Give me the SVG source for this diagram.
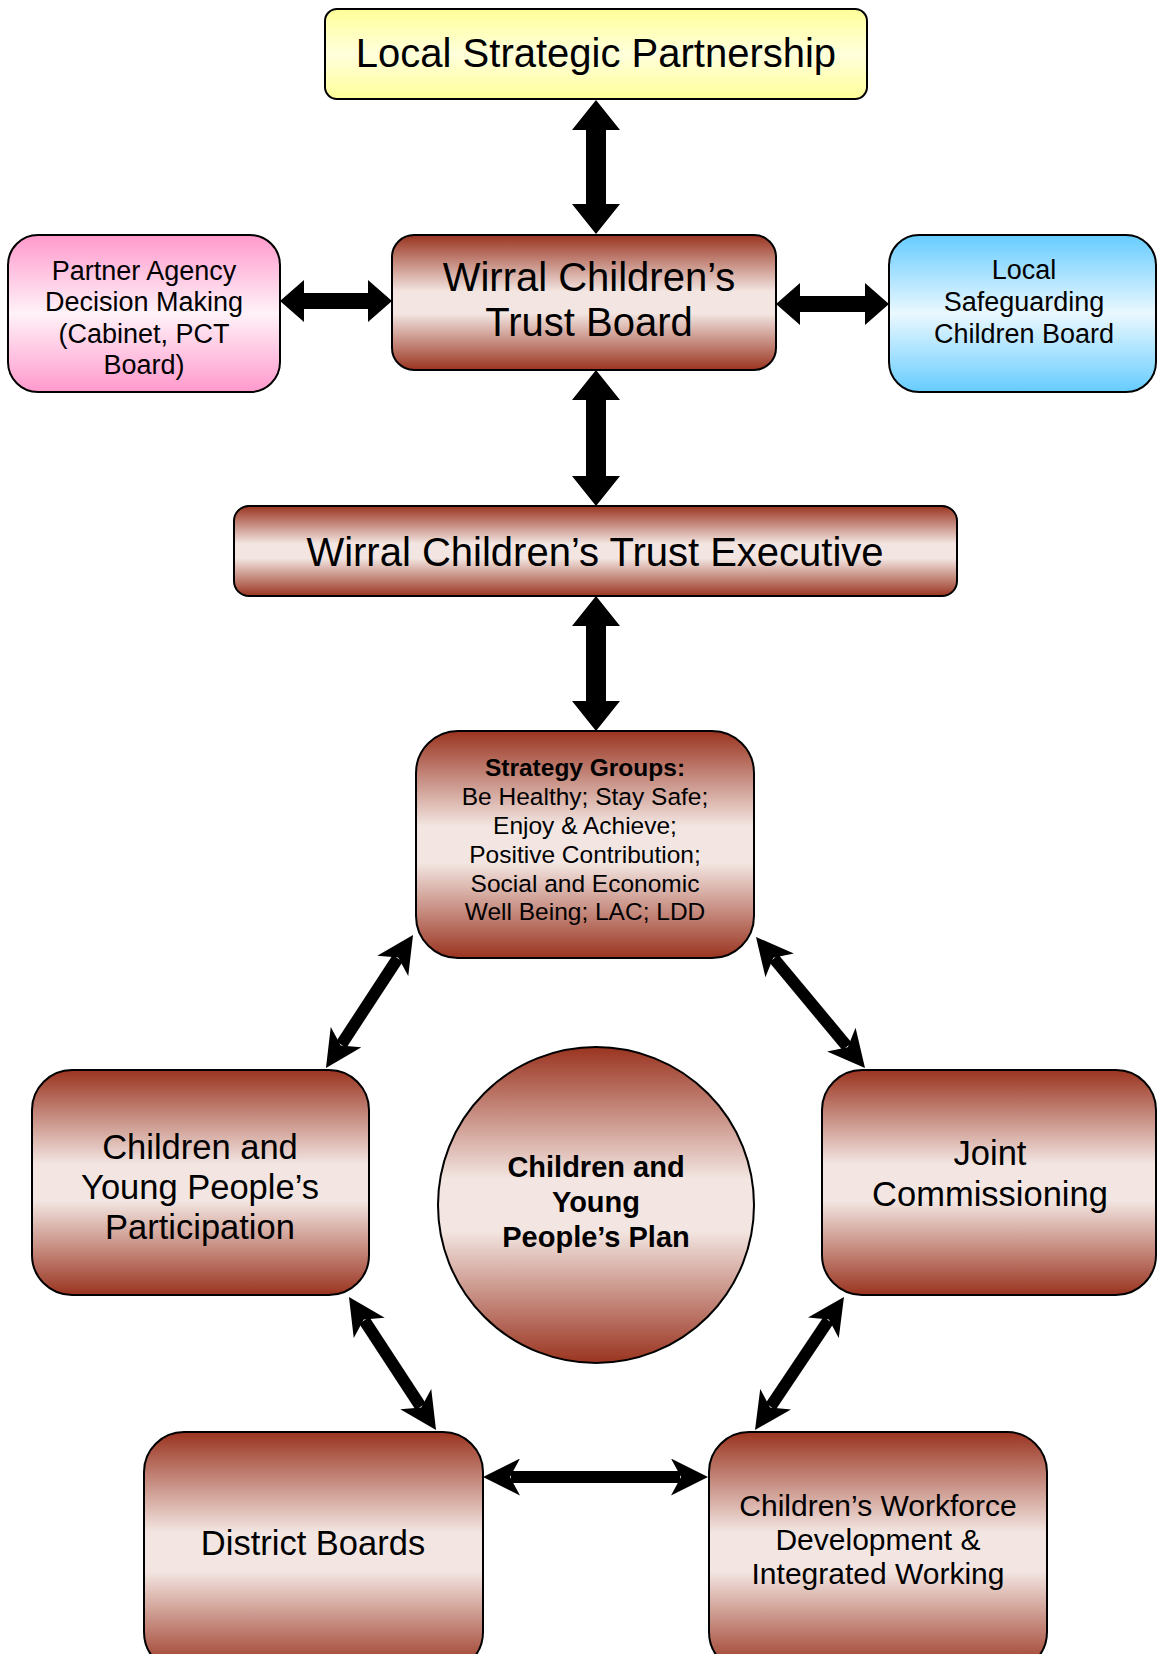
<svg xmlns="http://www.w3.org/2000/svg" width="1157" height="1654" viewBox="0 0 1157 1654">
<style>
text{font-family:"Liberation Sans",Arial,sans-serif;fill:#000;text-anchor:middle}
.box{stroke:#000;stroke-width:2}
.rust{fill:url(#gRust)}
.thin{stroke:#000;stroke-width:12;fill:none;marker-start:url(#barb);marker-end:url(#barb)}
.block{fill:#000}
</style>
<defs>
<linearGradient id="gRust" x1="0" y1="0" x2="0" y2="1">
<stop offset="0" stop-color="#9a3420"/>
<stop offset="0.42" stop-color="#f3e6e2"/>
<stop offset="0.58" stop-color="#f3e6e2"/>
<stop offset="1" stop-color="#9a3420"/>
</linearGradient>
<linearGradient id="gYellow" x1="0" y1="0" x2="0" y2="1">
<stop offset="0" stop-color="#ffff99"/>
<stop offset="0.5" stop-color="#ffffdc"/>
<stop offset="1" stop-color="#ffff99"/>
</linearGradient>
<linearGradient id="gPink" x1="0" y1="0" x2="0" y2="1">
<stop offset="0" stop-color="#ff99cc"/>
<stop offset="0.5" stop-color="#fff2f8"/>
<stop offset="1" stop-color="#ff99cc"/>
</linearGradient>
<linearGradient id="gBlue" x1="0" y1="0" x2="0" y2="1">
<stop offset="0" stop-color="#66ccff"/>
<stop offset="0.5" stop-color="#eaf8ff"/>
<stop offset="1" stop-color="#66ccff"/>
</linearGradient>
<marker id="barb" markerUnits="userSpaceOnUse" markerWidth="37" markerHeight="37" viewBox="0 0 37 37" refX="9" refY="18.5" orient="auto-start-reverse">
<path d="M37,18.5 L0,0 L10,18.5 L0,37 Z" fill="#000"/>
</marker>
</defs>

<g id="connectors">
<polygon class="block" points="596,100 620,130 606,130 606,204 620,204 596,234 572,204 586,204 586,130 572,130"/>
<polygon class="block" points="596,370 620,400 606,400 606,476 620,476 596,506 572,476 586,476 586,400 572,400"/>
<polygon class="block" points="596,596 620,626 606,626 606,701 620,701 596,731 572,701 586,701 586,626 572,626"/>
<polygon class="block" points="280,301 304,280 304,293 368,293 368,280 392,301 368,322 368,309 304,309 304,322"/>
<polygon class="block" points="776,304 800,283 800,296 865,296 865,283 889,304 865,325 865,312 800,312 800,325"/>
<path class="thin" d="M397.7,958.4 L341.3,1044.6"/>
<path class="thin" d="M773.9,958.5 L847.1,1046.5"/>
<path class="thin" d="M364.3,1320.4 L420.7,1406.6"/>
<path class="thin" d="M828.4,1320.3 L770.6,1406.7"/>
<path class="thin" d="M511,1477 L680,1477"/>
</g>

<g id="lsp">
<rect class="box" x="325" y="9" width="542" height="90" rx="12" fill="url(#gYellow)"/>
<text x="596" y="67" font-size="40">Local Strategic Partnership</text>
</g>

<g id="partner">
<rect class="box" x="8" y="235" width="272" height="157" rx="30" fill="url(#gPink)"/>
<text font-size="27"><tspan x="144" y="280">Partner Agency</tspan><tspan x="144" y="311">Decision Making</tspan><tspan x="144" y="343">(Cabinet, PCT</tspan><tspan x="144" y="374">Board)</tspan></text>
</g>

<g id="trustboard">
<rect class="box rust" x="392" y="235" width="384" height="135" rx="22"/>
<text font-size="40"><tspan x="589" y="291">Wirral Children’s</tspan><tspan x="589" y="336">Trust Board</tspan></text>
</g>

<g id="lscb">
<rect class="box" x="889" y="235" width="267" height="157" rx="30" fill="url(#gBlue)"/>
<text font-size="27"><tspan x="1024" y="279">Local</tspan><tspan x="1024" y="311">Safeguarding</tspan><tspan x="1024" y="343">Children Board</tspan></text>
</g>

<g id="executive">
<rect class="box rust" x="234" y="506" width="723" height="90" rx="15"/>
<text x="595" y="566" font-size="40">Wirral Children’s Trust Executive</text>
</g>

<g id="strategy">
<rect class="box rust" x="416" y="731" width="338" height="227" rx="42"/>
<text font-size="24.5"><tspan x="585" y="776" font-weight="bold">Strategy Groups:</tspan><tspan x="585" y="805">Be Healthy; Stay Safe;</tspan><tspan x="585" y="834">Enjoy &amp; Achieve;</tspan><tspan x="585" y="863">Positive Contribution;</tspan><tspan x="585" y="892">Social and Economic</tspan><tspan x="585" y="920">Well Being; LAC; LDD</tspan></text>
</g>

<g id="participation">
<rect class="box rust" x="32" y="1070" width="337" height="225" rx="40"/>
<text font-size="34.5"><tspan x="200" y="1159">Children and</tspan><tspan x="200" y="1199">Young People’s</tspan><tspan x="200" y="1239">Participation</tspan></text>
</g>

<g id="plan">
<circle class="box rust" cx="596" cy="1205" r="158"/>
<text font-size="29" font-weight="bold"><tspan x="596" y="1177">Children and</tspan><tspan x="596" y="1212">Young</tspan><tspan x="596" y="1247">People’s Plan</tspan></text>
</g>

<g id="joint">
<rect class="box rust" x="822" y="1070" width="334" height="225" rx="40"/>
<text font-size="34.5"><tspan x="990" y="1165">Joint</tspan><tspan x="990" y="1206">Commissioning</tspan></text>
</g>

<g id="district">
<rect class="box rust" x="144" y="1432" width="339" height="240" rx="40"/>
<text x="313" y="1555" font-size="34.5">District Boards</text>
</g>

<g id="workforce">
<rect class="box rust" x="709" y="1432" width="338" height="240" rx="40"/>
<text font-size="30"><tspan x="878" y="1516">Children’s Workforce</tspan><tspan x="878" y="1550">Development &amp;</tspan><tspan x="878" y="1584">Integrated Working</tspan></text>
</g>
</svg>
